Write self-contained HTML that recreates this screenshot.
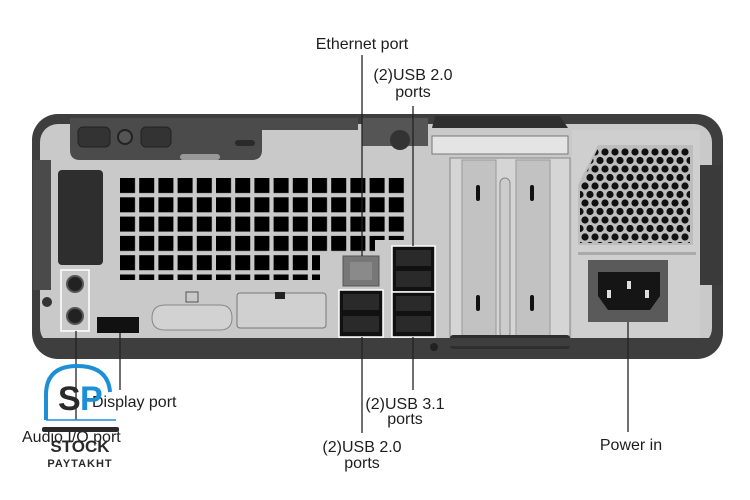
<!DOCTYPE html>
<html><head><meta charset="utf-8"><style>
body{margin:0;background:#fff;width:750px;height:500px;overflow:hidden;font-family:"Liberation Sans",sans-serif}
svg{position:absolute;left:0;top:0}
.t{font-family:"Liberation Sans",sans-serif;font-size:16px;fill:#1e1e1e}
</style></head><body>
<svg width="750" height="500" viewBox="0 0 750 500">
<defs>
<pattern id="sq" x="120" y="178" width="19.2" height="19.3" patternUnits="userSpaceOnUse"><rect width="15" height="15" fill="#000"/></pattern>
<pattern id="hx" x="580" y="148" width="10" height="17" patternUnits="userSpaceOnUse"><circle cx="5" cy="4" r="3.6" fill="#111"/><circle cx="0" cy="12.5" r="3.6" fill="#111"/><circle cx="10" cy="12.5" r="3.6" fill="#111"/></pattern>
</defs>
<rect x="32" y="114" width="691" height="245" rx="26" fill="#3e3e3e"/>
<rect x="40" y="124" width="672" height="222" rx="18" fill="#c9c9c9"/>
<rect x="33" y="160" width="18" height="130" fill="#4a4a4a"/>
<path d="M70 118 H262 V150 Q262 160 252 160 H80 Q70 160 70 150 Z" fill="#4b4b4b"/>
<rect x="248" y="118" width="110" height="12" fill="#4b4b4b"/>
<rect x="78" y="127" width="32" height="20" rx="5" fill="#333" stroke="#222"/>
<circle cx="125" cy="137" r="7" fill="#555" stroke="#222" stroke-width="2"/>
<rect x="141" y="127" width="30" height="20" rx="5" fill="#333" stroke="#222"/>
<rect x="235" y="140" width="20" height="6" rx="3" fill="#2a2a2a"/>
<rect x="180" y="154" width="40" height="6" rx="3" fill="#999"/>
<path d="M435 116 H560 L568 128 H432 Z" fill="#2f2f2f"/>
<rect x="432" y="136" width="136" height="18" fill="#e4e4e4" stroke="#777"/>
<rect x="362" y="118" width="66" height="28" fill="#555"/>
<circle cx="400" cy="140" r="10" fill="#333"/>
<rect x="58" y="170" width="45" height="95" rx="4" fill="#2e2e2e"/>
<rect x="120" y="178" width="288" height="102" fill="url(#sq)"/>
<rect x="320" y="255" width="90" height="30" fill="#c9c9c9"/>
<rect x="375" y="240" width="40" height="20" fill="#c9c9c9"/>
<rect x="450" y="158" width="120" height="185" fill="#d5d5d5" stroke="#888"/>
<rect x="462" y="160" width="34" height="180" fill="#c2c2c2" stroke="#999"/>
<rect x="516" y="160" width="34" height="180" fill="#c2c2c2" stroke="#999"/>
<rect x="500" y="178" width="10" height="160" rx="5" fill="#ccc" stroke="#888"/>
<rect x="476" y="185" width="4" height="16" rx="2" fill="#111"/><rect x="476" y="295" width="4" height="16" rx="2" fill="#111"/>
<rect x="530" y="185" width="4" height="16" rx="2" fill="#111"/><rect x="530" y="295" width="4" height="16" rx="2" fill="#111"/>
<rect x="450" y="335" width="120" height="14" rx="3" fill="#2e2e2e"/>
<rect x="572" y="130" width="128" height="215" fill="#cfcfcf"/>
<path d="M598 145 H693 V245 H578 V185 Z" fill="#bdbdbd"/>
<path d="M598 148 H690 V243 H580 V186 Z" fill="url(#hx)"/>
<rect x="578" y="252" width="118" height="3" fill="#aaa"/>
<rect x="588" y="260" width="80" height="62" fill="#5a5a5a"/>
<path d="M598 272 H660 V296 L650 310 H608 L598 296 Z" fill="#151515"/>
<rect x="607" y="290" width="4" height="8" fill="#ddd"/><rect x="627" y="281" width="4" height="8" fill="#ddd"/><rect x="645" y="290" width="4" height="8" fill="#ddd"/>
<rect x="700" y="165" width="22" height="120" fill="#3a3a3a"/>
<rect x="61" y="270" width="28" height="61" fill="none" stroke="#fff" stroke-width="1.5"/>
<circle cx="75" cy="284" r="8" fill="#222" stroke="#555" stroke-width="2"/>
<circle cx="75" cy="316" r="8" fill="#222" stroke="#555" stroke-width="2"/>
<circle cx="47" cy="302" r="5" fill="#333"/>
<rect x="97" y="317" width="42" height="16" fill="#111"/>
<path d="M152 318 Q152 305 165 305 H220 Q232 305 232 318 Q232 330 220 330 H165 Q152 330 152 318Z" fill="#d2d2d2" stroke="#888"/>
<rect x="186" y="292" width="12" height="10" fill="none" stroke="#555"/>
<rect x="237" y="293" width="89" height="35" rx="3" fill="#d0d0d0" stroke="#777"/>
<rect x="275" y="292" width="10" height="7" fill="#222"/>
<rect x="343" y="256" width="36" height="30" fill="#777" stroke="#555"/>
<rect x="350" y="262" width="22" height="18" fill="#8a8a8a"/>
<rect x="339" y="290" width="44" height="47" fill="#111" stroke="#fff" stroke-width="1.5"/>
<rect x="343" y="294" width="36" height="16" fill="#2a2a2a"/><rect x="343" y="316" width="36" height="16" fill="#2a2a2a"/>
<rect x="392" y="246" width="43" height="46" fill="#111" stroke="#fff" stroke-width="1.5"/>
<rect x="396" y="250" width="35" height="16" fill="#2a2a2a"/><rect x="396" y="271" width="35" height="16" fill="#2a2a2a"/>
<rect x="392" y="292" width="43" height="45" fill="#111" stroke="#fff" stroke-width="1.5"/>
<rect x="396" y="296" width="35" height="15" fill="#2a2a2a"/><rect x="396" y="316" width="35" height="16" fill="#2a2a2a"/>
<rect x="40" y="338" width="672" height="8" fill="#3e3e3e"/>
<circle cx="434" cy="347" r="4" fill="#222"/>
<g stroke="#222" stroke-width="1.3">
<line x1="362" y1="55" x2="362" y2="256"/>
<line x1="413" y1="106" x2="413" y2="246"/>
<line x1="413" y1="337" x2="413" y2="390"/>
<line x1="362" y1="337" x2="362" y2="433"/>
<line x1="628" y1="322" x2="628" y2="432"/>
<line x1="120" y1="333" x2="120" y2="390"/>
<line x1="76" y1="331" x2="76" y2="420"/>
</g>
<text class="t" x="362" y="49" text-anchor="middle">Ethernet port</text>
<text class="t" x="413" y="80" text-anchor="middle">(2)USB 2.0</text>
<text class="t" x="413" y="97" text-anchor="middle">ports</text>
<text class="t" x="405" y="409" text-anchor="middle">(2)USB 3.1</text>
<text class="t" x="405" y="424" text-anchor="middle">ports</text>
<text class="t" x="362" y="452" text-anchor="middle">(2)USB 2.0</text>
<text class="t" x="362" y="468" text-anchor="middle">ports</text>
<text class="t" x="631" y="450" text-anchor="middle">Power in</text>
<text class="t" x="92" y="407">Display port</text>
<text class="t" x="22" y="442">Audio I/O port</text>
<path d="M46 420 V395 Q46 366 77 366 Q108 366 110 392" fill="none" stroke="#1d8fd6" stroke-width="4"/>
<line x1="46" y1="420" x2="116" y2="420" stroke="#1d8fd6" stroke-width="1.5"/>
<text x="58" y="410" font-family="Liberation Sans,sans-serif" font-weight="bold" font-size="34" fill="#2a2a2a">S</text>
<text x="80" y="410" font-family="Liberation Sans,sans-serif" font-weight="bold" font-size="34" fill="#1d8fd6">P</text>
<rect x="42" y="427" width="77" height="5" rx="2" fill="#2a2a2a"/>
<text x="80" y="452" text-anchor="middle" font-family="Liberation Sans,sans-serif" font-weight="bold" font-size="17" fill="#2a2a2a">STOCK</text>
<text x="80" y="467" text-anchor="middle" font-family="Liberation Sans,sans-serif" font-weight="bold" font-size="11" letter-spacing="1" fill="#2a2a2a">PAYTAKHT</text>
</svg>
</body></html>
